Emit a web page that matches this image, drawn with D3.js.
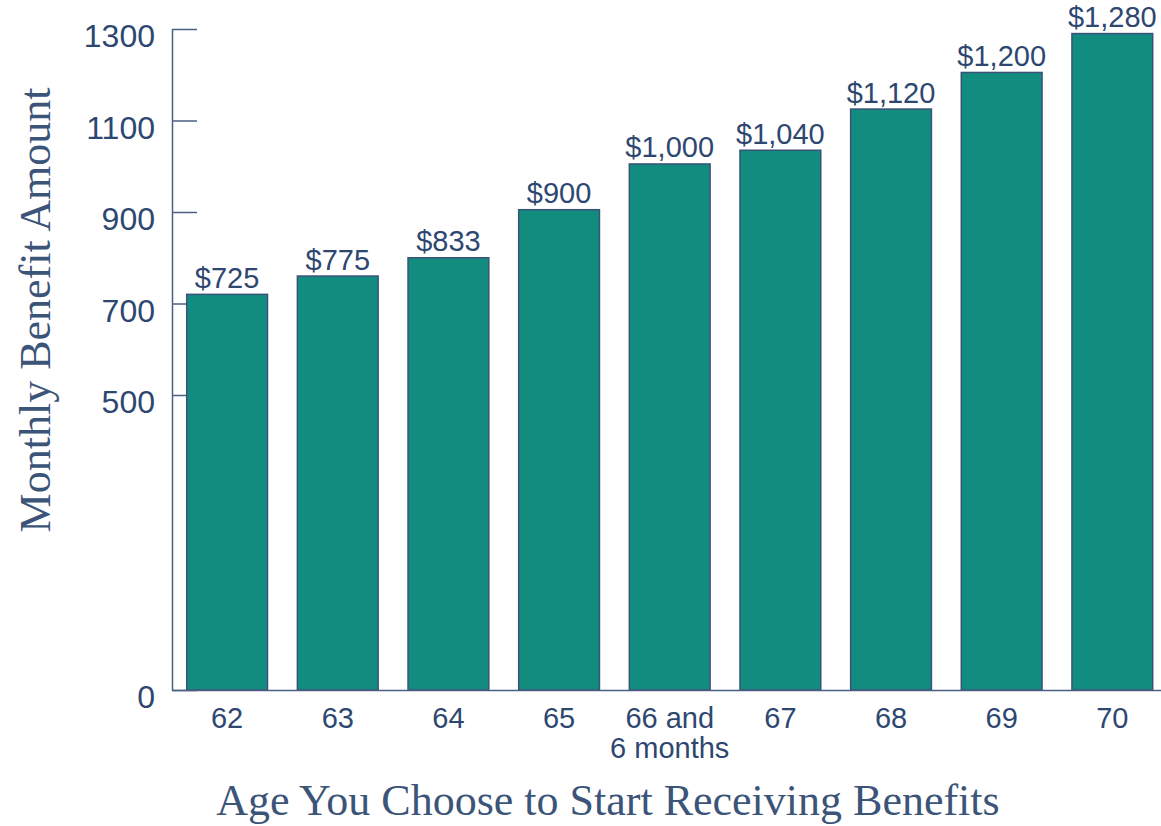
<!DOCTYPE html>
<html>
<head>
<meta charset="utf-8">
<script src="https://cdn.jsdelivr.net/npm/d3@7/dist/d3.min.js"></script>
<style>
  body { margin: 0; background: #fff; }
</style>
</head>
<body>
<script>
// Data
var ages = ["62", "63", "64", "65", "66 and\n6 months", "67", "68", "69", "70"];
var barValues = [720, 760, 800, 905, 1005, 1035, 1125, 1205, 1290];   // bar heights as drawn
var valueLabels = ["$725", "$775", "$833", "$900", "$1,000", "$1,040", "$1,120", "$1,200", "$1,280"];
var yTicks = [0, 500, 700, 900, 1100, 1300];

var width = 1161,
    height = 826;

var textColor = "#2e4770",
    lineColor = "#4a5f82",
    barFill = "#138c80",
    barStroke = "#3a5278";

var svg = d3.select("body")
    .append("svg")
    .attr("width", width)
    .attr("height", height);

var x = d3.scaleBand()
    .domain(ages)
    .range([172, 1161])
    .paddingInner(0.27)
    .paddingOuter(0.104)
    .align(0.64);

// the axis is broken: 0-500 is squeezed, 500-1300 is linear
var y = d3.scaleLinear()
    .domain([0, 500, 1300])
    .range([690, 395, 29]);

// y axis, ticks pointing into the plot
var yAxis = svg.append("g")
    .attr("transform", "translate(172,0)")
    .call(d3.axisLeft(y)
        .tickValues(yTicks)
        .tickSizeInner(-25)
        .tickSizeOuter(0)
        .tickPadding(17)
        .tickFormat(d3.format("d")));

yAxis.selectAll("path, line").attr("stroke", lineColor).attr("stroke-width", 1.5);
yAxis.selectAll("text")
    .attr("dy", "0.56em")
    .style("font-family", "'Liberation Sans', Arial, sans-serif")
    .style("font-size", "32px")
    .attr("fill", textColor);

// bars
svg.selectAll(".bar")
    .data(barValues)
    .enter().append("rect")
    .attr("class", "bar")
    .attr("x", function(d, i) { return x(ages[i]); })
    .attr("y", function(d) { return y(d); })
    .attr("width", x.bandwidth())
    .attr("height", function(d) { return y(0) - y(d); })
    .attr("fill", barFill)
    .attr("stroke", barStroke)
    .attr("stroke-width", 1.5);

// value labels above bars
svg.selectAll(".val")
    .data(barValues)
    .enter().append("text")
    .attr("class", "val")
    .attr("x", function(d, i) { return x(ages[i]) + x.bandwidth() / 2; })
    .attr("y", function(d) { return y(d) - 6.5; })
    .attr("text-anchor", "middle")
    .style("font-family", "'Liberation Sans', Arial, sans-serif")
    .style("font-size", "29px")
    .attr("fill", textColor)
    .text(function(d, i) { return valueLabels[i]; });

// x axis (baseline + category labels)
var xAxis = svg.append("g")
    .attr("transform", "translate(0," + y(0) + ")")
    .call(d3.axisBottom(x).tickSize(0).tickPadding(17));

xAxis.select(".domain").attr("stroke", lineColor).attr("stroke-width", 1.5);
xAxis.selectAll("text")
    .style("font-family", "'Liberation Sans', Arial, sans-serif")
    .style("font-size", "29px")
    .attr("fill", textColor)
    .each(function(d) {
        var t = d3.select(this), lines = d.split("\n");
        t.text(null);
        lines.forEach(function(l, k) {
            t.append("tspan").attr("x", 0).attr("dy", k ? "1.06em" : "0.71em").text(l);
        });
    });

// axis titles
svg.append("text")
    .attr("x", 608)
    .attr("y", 815)
    .attr("text-anchor", "middle")
    .style("font-family", "'Liberation Serif', 'Times New Roman', serif")
    .style("font-size", "44px")
    .attr("fill", "#3b5478")
    .text("Age You Choose to Start Receiving Benefits");

svg.append("text")
    .attr("transform", "translate(50,310) rotate(-90)")
    .attr("text-anchor", "middle")
    .style("font-family", "'Liberation Serif', 'Times New Roman', serif")
    .style("font-size", "44px")
    .attr("fill", "#3b5478")
    .text("Monthly Benefit Amount");
</script>
</body>
</html>
